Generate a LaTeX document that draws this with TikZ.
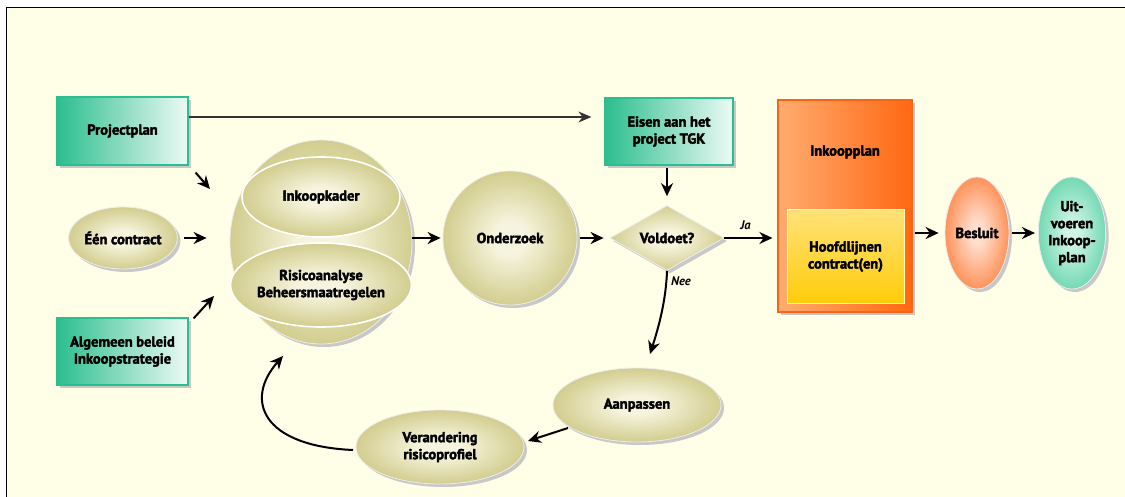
\documentclass[tikz,border=0pt]{standalone}
\usepackage{fontspec}
\setmainfont{PT Sans}[BoldFeatures={FakeBold=2.5}]
\usetikzlibrary{shapes.geometric,shadows,arrows.meta}

% palette
\definecolor{paper}{RGB}{255,254,230}
\definecolor{khakilight}{RGB}{246,244,222}
\definecolor{khakimid}{RGB}{212,207,146}
\definecolor{khakiedge}{RGB}{176,169,86}
\definecolor{tealc}{RGB}{44,190,142}
\definecolor{tealpale}{RGB}{236,250,245}
\definecolor{orangelight}{RGB}{255,172,112}
\definecolor{orangedeep}{RGB}{255,104,18}
\definecolor{orangeline}{RGB}{250,100,20}
\definecolor{yellowtop}{RGB}{255,226,120}
\definecolor{yellowbot}{RGB}{255,204,10}
\definecolor{ballorlight}{RGB}{255,222,204}
\definecolor{ballormid}{RGB}{255,150,96}
\definecolor{ballored}{RGB}{255,104,32}
\definecolor{balltllight}{RGB}{206,244,228}
\definecolor{balltlmid}{RGB}{120,218,182}
\definecolor{balltledge}{RGB}{56,192,148}
\definecolor{shadowc}{RGB}{200,200,200}

% glowing fills for the round shapes
\pgfdeclareradialshading{khakiball}{\pgfpoint{0bp}{0bp}}{color(0bp)=(khakilight); color(6bp)=(khakilight); color(24bp)=(khakimid); color(42bp)=(khakiedge); color(50bp)=(khakiedge)}
\pgfdeclareradialshading{orangeball}{\pgfpoint{0bp}{0bp}}{color(0bp)=(ballorlight); color(5bp)=(ballorlight); color(24bp)=(ballormid); color(42bp)=(ballored); color(50bp)=(ballored)}
\pgfdeclareradialshading{tealball}{\pgfpoint{0bp}{0bp}}{color(0bp)=(balltllight); color(5bp)=(balltllight); color(24bp)=(balltlmid); color(42bp)=(balltledge); color(50bp)=(balltledge)}

\tikzset{
  txt/.style={font=\fontsize{14.5}{17}\selectfont\bfseries, align=center, text=black},
  shade3/.style={drop shadow={shadow xshift=3pt, shadow yshift=-3pt, fill=shadowc, opacity=1}},
  tealbox/.style={txt, shape=rectangle, inner sep=0pt, draw=tealc, line width=1.2pt,
                   left color=tealc, right color=tealpale, shade3},
  khakiround/.style={txt, shape=ellipse, inner sep=0pt, shading=khakiball, draw=white!85!gray, line width=0.8pt, shade3},
  innerround/.style={txt, shape=ellipse, inner sep=0pt, shading=khakiball, draw=white, line width=1.6pt},
  arr/.style={draw=black, line width=2pt, -{Stealth[length=13pt,width=12pt]}},
  thinarr/.style={draw=black!80, line width=1.3pt, -{Stealth[length=13pt,width=11pt]}},
  tag/.style={font=\fontsize{12.5}{14}\selectfont\bfseries\itshape, inner sep=0pt}
}

\begin{document}
\begin{tikzpicture}[x=1pt,y=-1pt]
\useasboundingbox (0,0) rectangle (1125,497);

% framed panel
\fill[paper] (6.5,7.5) rectangle (1125,497);
\draw[black, line width=1.4pt] (6.5,497) -- (6.5,7.5) -- (1125,7.5);

% inputs
\node[tealbox, minimum width=131pt, minimum height=68pt] (proj) at (122.5,131) {Projectplan};
\node[khakiround, minimum width=108pt, minimum height=62pt] (een) at (123,238) {Één contract};
\node[tealbox, minimum width=131pt, minimum height=67pt] (alg) at (122.5,351.5) {Algemeen beleid\\Inkoopstrategie};

% central sphere with its two parts
\node[khakiround, minimum width=182pt, minimum height=204pt] (bol) at (321,242) {};
\node[innerround, minimum width=158pt, minimum height=80pt] (kader) at (321,197) {Inkoopkader};
\node[innerround, minimum width=158pt, minimum height=84pt] (risico) at (321,285) {Risicoanalyse\\Beheersmaatregelen};

% research and decision
\node[khakiround, shape=circle, minimum size=134pt] (onder) at (510,238) {Onderzoek};
\node[txt, shape=diamond, inner sep=0pt, minimum width=114pt, minimum height=64pt,
      shading=khakiball, draw=white!85!gray, line width=0.8pt, shade3] (vold) at (667,238) {Voldoet?};
\node[tealbox, minimum width=128pt, minimum height=67pt] (eisen) at (669,131.5) {Eisen aan het\\project TGK};

% purchasing plan
\node[shape=rectangle, inner sep=0pt, minimum width=134pt, minimum height=212pt,
      left color=orangelight, right color=orangedeep, draw=orangeline, line width=1.2pt, shade3] (inkoop) at (845,206) {};
\node[txt] (inkooplbl) at (845,152) {Inkoopplan};
\node[txt, shape=rectangle, inner sep=0pt, minimum width=117pt, minimum height=93pt,
      top color=yellowtop, bottom color=yellowbot, draw=white!70!yellow, line width=1pt] (hoofd) at (845.5,256.5) {Hoofdlijnen\\contract(en)};

% outcome
\node[txt, shape=ellipse, inner sep=0pt, minimum width=64pt, minimum height=112pt,
      shading=orangeball, draw=white!85!gray, line width=0.8pt, shade3] (besluit) at (977,233) {Besluit};
\node[txt, shape=ellipse, inner sep=0pt, minimum width=64pt, minimum height=112pt,
      shading=tealball, draw=white!85!gray, line width=0.8pt, shade3] (uit) at (1072,233) {Uit-\\voeren\\Inkoop-\\plan};

% feedback loop
\node[khakiround, minimum width=168pt, minimum height=74pt] (aanp) at (637,405) {Aanpassen};
\node[khakiround, minimum width=168pt, minimum height=74pt] (verand) at (440,447) {Verandering\\risicoprofiel};

% free ends of the short arrows
\coordinate (projtip) at (210,189);
\coordinate (algtip) at (214,296);
\coordinate (neetip) at (650,354);
\coordinate (aanptail) at (568,428);
\coordinate (verandtip) at (528,441);
\coordinate (loopstart) at (353,450);
\coordinate (looptip) at (283,356);

% connectors
\draw[thinarr, shorten >=13pt] (proj.east |- 0,117) -- (eisen.west |- 0,117);
\draw[arr] ([shift={(7pt,-7pt)}]proj.south east) -- (projtip);
\draw[arr, shorten <=6pt, shorten >=23pt] (een.east) -- (een.east -| bol.west);
\draw[arr] ([shift={(5pt,-1pt)}]alg.north east) -- (algtip);
\draw[arr, shorten >=2pt] (bol.east |- onder.west) -- (onder.west);
\draw[arr, shorten <=3pt, shorten >=6pt] (onder.east) -- (vold.west);
\draw[arr, shorten <=2pt, shorten >=9pt] (eisen.south -| vold.north) -- (vold.north);
\draw[arr, shorten >=5pt] (vold.east) -- node[tag, above=7pt, pos=0.4] (ja) {Ja} (inkoop.west |- vold.east);
\draw[arr, shorten <=2pt, shorten >=6pt] (inkoop.east |- besluit.west) -- (besluit.west);
\draw[arr, shorten <=3pt, shorten >=3pt] (besluit.east) -- (uit.west);
\draw[arr] (vold.south) .. controls (666,300) and (659,326) .. (neetip);
\node[tag, anchor=west] (nee) at (671,281) {Nee};
\draw[arr] (aanptail) -- (verandtip);
\draw[arr] (loopstart) .. controls (262,446) and (244,400) .. (looptip);

\end{tikzpicture}
\end{document}
